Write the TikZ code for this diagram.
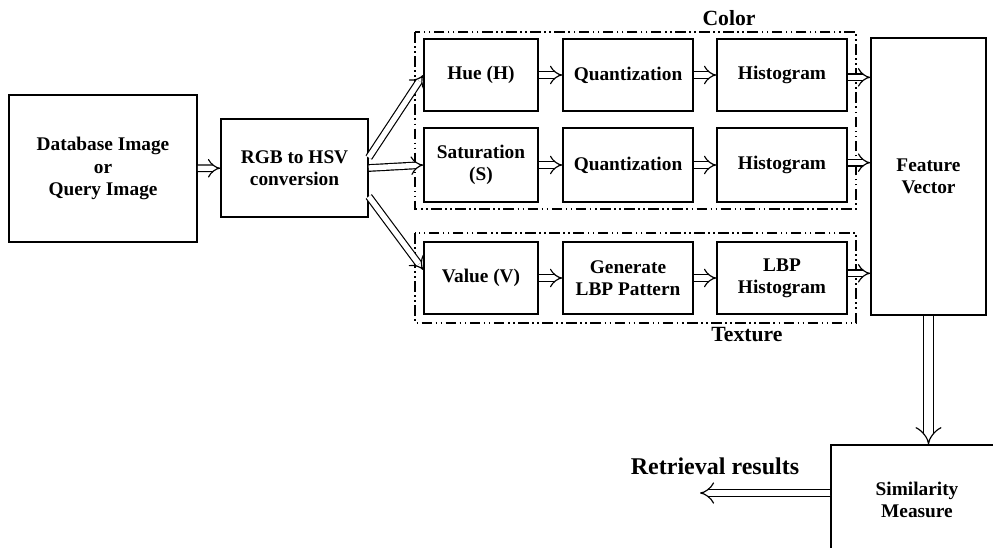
\documentclass[tikz,border=0pt]{standalone}
\usepackage{fontspec}
\setmainfont{Liberation Serif}
\usetikzlibrary{arrows.meta}
\tikzset{
  blk/.style={draw, line width=1.3pt, align=center, inner sep=0pt,
    font=\fontsize{16.5}{19}\selectfont\bfseries},
  cell/.style={blk, minimum width=3.9cm, minimum height=2.16cm},
  dbl/.style={double, line width=1pt, double distance=4.6pt, -{Implies}},
  bigdbl/.style={dbl, double distance=7pt},
  grp/.style={draw, line width=1.2pt,
    dash pattern=on 9pt off 3pt on 1.3pt off 3pt on 1.3pt off 3pt},
  lbl/.style={font=\fontsize{18.5}{22}\selectfont\bfseries, inner sep=0pt}
}
\begin{document}
\begin{tikzpicture}[x=0.03cm, y=-0.03cm]
  \useasboundingbox (0,0) rectangle (993,547);
  \draw[grp] (415,32) rectangle (856,209);
  \draw[grp] (415,233) rectangle (856,323);
  \node[lbl] (color) at (729,18) {Color};
  \node[lbl] (texture) at (747,335) {Texture};
  \node[blk, minimum width=5.64cm, minimum height=4.41cm] (db) at (103,168.5)
    {Database Image\\or\\Query Image};
  \node[blk, minimum width=4.41cm, minimum height=2.94cm] (rgb) at (294.5,168)
    {RGB to HSV\\conversion};
  \node[cell, minimum width=3.42cm] (hue) at (481,75) {Hue (H)};
  \node[cell] (q1) at (628,75) {Quantization};
  \node[cell] (h1) at (782,75) {Histogram};
  \node[cell, minimum width=3.42cm, minimum height=2.22cm] (sat) at (481,165)
    {Saturation\\(S)};
  \node[cell, minimum height=2.22cm] (q2) at (628,165) {Quantization};
  \node[cell, minimum height=2.22cm] (h2) at (782,165) {Histogram};
  \node[cell, minimum width=3.42cm] (val) at (481,278) {Value (V)};
  \node[cell] (lbp) at (628,278) {Generate\\LBP Pattern};
  \node[cell] (h3) at (782,278) {LBP\\Histogram};
  \node[blk, minimum width=3.45cm, minimum height=8.31cm] (fv) at (928.5,176.5)
    {Feature\\Vector};
  \node[blk, minimum width=5.16cm, minimum height=3.3cm] (sim) at (917,500)
    {Similarity\\Measure};
  \coordinate (ret) at (700,493);
  \node[lbl, font=\fontsize{20.5}{24}\selectfont\bfseries] (rettext) at (715,466)
    {Retrieval results};
  \draw[dbl] (db) -- (rgb);
  \draw[dbl] (rgb.8) -- (hue.west);
  \draw[dbl] (rgb.east) -- (sat.west);
  \draw[dbl] (rgb.-21) -- (val.172);
  \draw[dbl] (hue) -- (q1);
  \draw[dbl] (q1) -- (h1);
  \draw[dbl] (sat) -- (q2);
  \draw[dbl] (q2) -- (h2);
  \draw[dbl] (val) -- (lbp);
  \draw[dbl] (lbp) -- (h3);
  \draw[dbl] ([yshift=-2pt]h1.east) -- ([yshift=-2pt]h1.east -| fv.west);
  \draw[dbl] ([yshift=2pt]h2.east) -- ([yshift=2pt]h2.east -| fv.west);
  \draw[dbl] ([yshift=4pt]h3.east) -- ([yshift=4pt]h3.east -| fv.west);
  \draw[bigdbl] (fv.south) -- (fv.south |- sim.north);
  \draw[dbl, double distance=5.5pt] (sim.west |- ret) -- (ret);
\end{tikzpicture}
\end{document}
